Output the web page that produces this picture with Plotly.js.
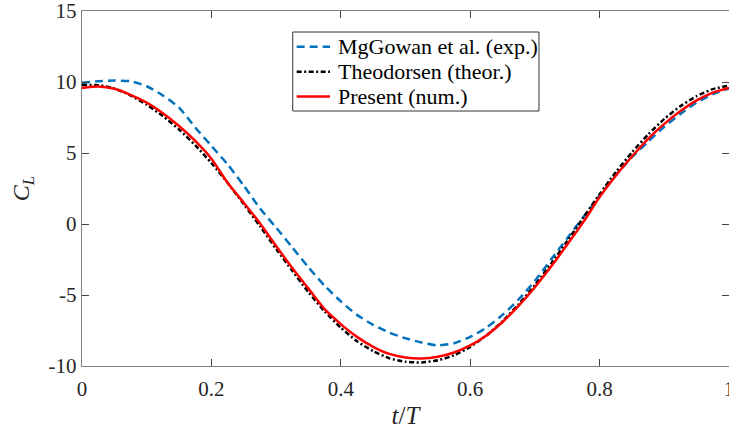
<!DOCTYPE html>
<html>
<head>
<meta charset="utf-8">
<script src="https://cdn.plot.ly/plotly-3.0.1.min.js"></script>
<style>html,body{margin:0;padding:0;background:#fff;}#chart{width:729px;height:438px;}</style>
</head>
<body>
<div id="chart"></div>
<script>
var t = [0.000,0.025,0.050,0.075,0.100,0.125,0.150,0.175,0.200,0.225,0.250,0.275,0.300,0.325,0.350,0.375,0.400,0.425,0.450,0.475,0.500,0.525,0.550,0.575,0.600,0.625,0.650,0.675,0.700,0.725,0.750,0.775,0.800,0.825,0.850,0.875,0.900,0.925,0.950,0.975,1.000];

var mcgowan = [9.95,10.05,10.10,10.05,9.70,9.05,8.20,6.80,5.50,4.20,2.70,1.10,-0.25,-1.65,-3.05,-4.35,-5.45,-6.40,-7.10,-7.65,-8.05,-8.35,-8.55,-8.40,-7.95,-7.30,-6.40,-5.30,-4.00,-2.50,-1.00,0.50,2.00,3.45,4.70,5.80,6.85,7.75,8.55,9.15,9.55];

var theodorsen = [9.78,9.78,9.55,9.05,8.40,7.60,6.65,5.55,4.30,2.90,1.40,-0.15,-1.75,-3.30,-4.80,-6.15,-7.30,-8.25,-8.95,-9.45,-9.70,-9.75,-9.60,-9.25,-8.65,-7.85,-6.85,-5.65,-4.30,-2.80,-1.20,0.45,2.10,3.65,5.05,6.30,7.40,8.30,9.00,9.50,9.75];

var present = [9.58,9.68,9.52,9.10,8.55,7.80,6.90,5.85,4.60,2.90,1.50,0.05,-1.55,-3.10,-4.55,-6.00,-7.05,-7.95,-8.65,-9.15,-9.40,-9.47,-9.35,-9.05,-8.55,-7.85,-6.90,-5.75,-4.45,-3.00,-1.45,0.15,1.90,3.40,4.75,6.00,7.05,7.95,8.70,9.25,9.58];

var names = ["MgGowan et al. (exp.)", "Theodorsen (theor.)", "Present (num.)"];
var colors = ["#0072BD", "#000000", "#FF0000"];
var dashes = ["8px,5px", "5px,2.5px,2px,2.5px", "solid"];

var xTickVals = [0, 0.2, 0.4, 0.6, 0.8, 1];
var xTickText = ["0", "0.2", "0.4", "0.6", "0.8", "1"];
var yTickVals = [-10, -5, 0, 5, 10, 15];
var yTickText = ["-10", "-5", "0", "5", "10", "15"];

var serif = "Liberation Serif, Times New Roman, serif";
var series = [mcgowan, theodorsen, present];

var traces = series.map(function (ys, i) {
  return {x: t, y: ys, name: names[i], mode: "lines", showlegend: false,
    line: {color: colors[i], width: 2.5, dash: dashes[i], shape: "spline", smoothing: 0.6}};
});

var axisCommon = {
  showgrid: false, zeroline: false,
  showline: true, linecolor: "#808080", linewidth: 1.2, mirror: "ticks",
  ticks: "inside", ticklen: 7, tickwidth: 1, tickcolor: "#444",
  ticklabeloverflow: "allow",
  tickfont: {family: serif, size: 21, color: "#262626"}
};

// custom legend (box, samples, labels) in paper coordinates
var legBox = {x0: 0.3257, x1: 0.7063, y0: 0.7183, y1: 0.9408};
var rowY = [0.8994, 0.8290, 0.7592];
var sampleX = [0.3318, 0.3833];
var textX = 0.3926;

var shapes = [{type: "rect", xref: "paper", yref: "paper",
  x0: legBox.x0, x1: legBox.x1, y0: legBox.y0, y1: legBox.y1,
  line: {color: "#333", width: 1}, fillcolor: "#fff", layer: "above"}];
var annotations = [];
names.forEach(function (nm, i) {
  shapes.push({type: "line", xref: "paper", yref: "paper",
    x0: sampleX[0], x1: sampleX[1], y0: rowY[i], y1: rowY[i],
    line: {color: colors[i], width: 2.5, dash: dashes[i]}, layer: "above"});
  annotations.push({xref: "paper", yref: "paper", x: textX, y: rowY[i],
    xanchor: "left", yanchor: "middle", showarrow: false, text: nm,
    font: {family: serif, size: 22, color: "#000"}});
});

var layout = {
  width: 729, height: 438,
  margin: {l: 82, r: 0, t: 11, b: 72},
  paper_bgcolor: "#fff", plot_bgcolor: "#fff",
  showlegend: false,
  xaxis: Object.assign({}, axisCommon, {
    range: [0, 1], tickmode: "array", tickvals: xTickVals, ticktext: xTickText,
    ticklabelstandoff: 4,
    title: {text: "<i>t</i>/<i>T</i>", font: {family: serif, size: 25, color: "#262626"}, standoff: 6}
  }),
  yaxis: Object.assign({}, axisCommon, {
    range: [-10, 15], tickmode: "array", tickvals: yTickVals, ticktext: yTickText,
    title: {text: "<i>C</i><sub><i>L</i></sub>", font: {family: serif, size: 24, color: "#262626"}, standoff: 12}
  }),
  shapes: shapes,
  annotations: annotations
};

Plotly.newPlot("chart", traces, layout, {staticPlot: true, displayModeBar: false});
</script>
</body>
</html>
